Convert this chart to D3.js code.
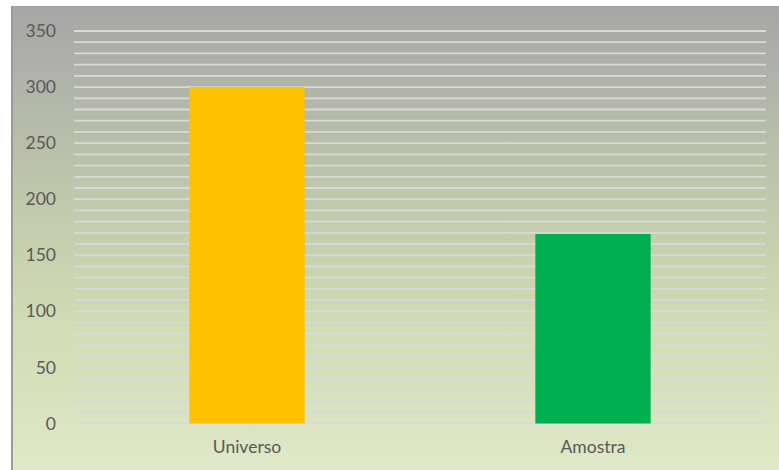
<!DOCTYPE html>
<html>
<head>
<meta charset="utf-8">
<script src="https://cdn.jsdelivr.net/npm/d3@7"></script>
<style>
  html, body { margin: 0; padding: 0; background: #ffffff; }
  svg { display: block; }
  text { font-family: Lato, "Open Sans", sans-serif; }
</style>
</head>
<body>
<svg id="chart" width="779" height="470"></svg>
<script>
// Population sizes
const categories = ["Universo", "Amostra"];
const values = [300, 169];
const barColors = ["#FFC000", "#00B050"];
const tickValues = [0, 50, 100, 150, 200, 250, 300, 350];
const minorStep = 10;

const W = 779, H = 470;
const svg = d3.select("#chart");

// Chart area background: gray fading into pale green
const defs = svg.append("defs");
const grad = defs.append("linearGradient")
  .attr("id", "bg").attr("x1", 0).attr("y1", 0).attr("x2", 0).attr("y2", 1);
grad.append("stop").attr("offset", "0%").attr("stop-color", "#a6a6a6");
grad.append("stop").attr("offset", "45%").attr("stop-color", "#c2cbac");
grad.append("stop").attr("offset", "70%").attr("stop-color", "#d1ddb4");
grad.append("stop").attr("offset", "100%").attr("stop-color", "#dfe8c8");

const areaX = 11, areaY = 6;
svg.append("rect")
  .attr("x", areaX).attr("y", areaY)
  .attr("width", W - areaX).attr("height", H - areaY)
  .attr("fill", "url(#bg)");
svg.append("line")
  .attr("x1", areaX + 1).attr("x2", areaX + 1)
  .attr("y1", areaY).attr("y2", H)
  .attr("stroke", "#9a9a9a").attr("stroke-width", 2);

const plot = { left: 74, right: 766, top: 31, bottom: 423.5 };

const y = d3.scaleLinear().domain([0, 350]).range([plot.bottom, plot.top]);
const x = d3.scaleBand().domain(categories).range([plot.left, plot.right]).padding(0);

// Gridlines every 10 units
const gridVals = d3.range(0, 350 + minorStep / 2, minorStep);
svg.append("g").selectAll("line").data(gridVals).join("line")
  .attr("x1", plot.left).attr("x2", plot.right)
  .attr("y1", d => y(d)).attr("y2", d => y(d))
  .attr("stroke", "#d9d9d9").attr("stroke-width", 1.8);

// Bars: one third of each category slot, centred
const bw = x.step() / 3;
svg.append("g").selectAll("rect").data(values).join("rect")
  .attr("x", (d, i) => x(categories[i]) + (x.step() - bw) / 2)
  .attr("width", bw)
  .attr("y", d => y(d))
  .attr("height", d => y(0) - y(d))
  .attr("fill", (d, i) => barColors[i]);

// Value axis
const yAxis = d3.axisLeft(y).tickValues(tickValues).tickSize(0).tickPadding(0);
const gy = svg.append("g").attr("transform", "translate(56,0)").call(yAxis);
gy.select(".domain").remove();
gy.selectAll("text")
  .attr("fill", "#595959").attr("font-size", 17.5)
  .attr("font-family", "Lato, 'Open Sans', sans-serif");

// Category axis
const xAxis = d3.axisBottom(x).tickSize(0).tickPadding(0);
const gx = svg.append("g").attr("transform", "translate(0,441)").call(xAxis);
gx.select(".domain").remove();
gx.selectAll("text")
  .attr("fill", "#595959").attr("font-size", 17.5)
  .attr("font-family", "Lato, 'Open Sans', sans-serif");
</script>
</body>
</html>
